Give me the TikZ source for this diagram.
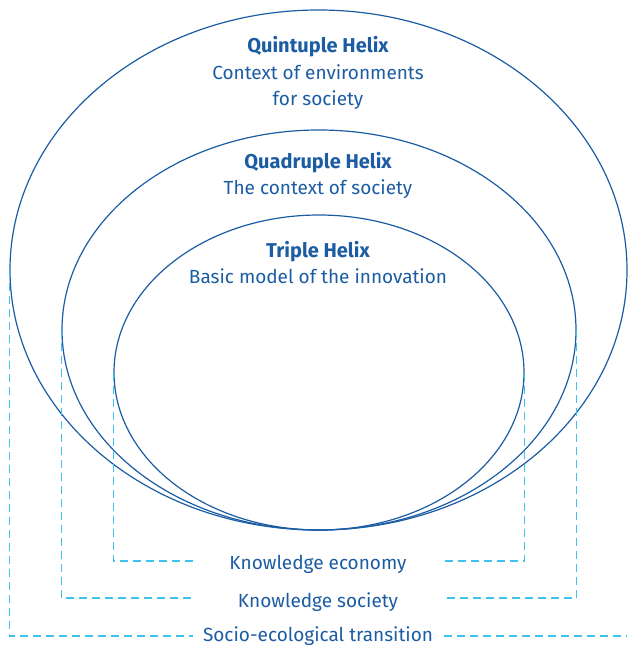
\documentclass[tikz,border=0pt]{standalone}
\usepackage{fontspec}
\setmainfont{Fira Sans}
\usetikzlibrary{shapes.geometric}
\definecolor{helixblue}{HTML}{1B5CA3}
\definecolor{guideblue}{HTML}{3EC3EE}
\tikzset{
	helix/.style={draw=helixblue, line width=1.2pt, ellipse, inner sep=0pt},
	guide/.style={draw=guideblue, line width=1.3pt, dash pattern=on 8pt off 5pt},
	caption/.style={text=helixblue, anchor=base, inner sep=0pt,
		font=\fontsize{19}{22}\selectfont},
	title/.style={caption, font=\fontsize{20}{22}\selectfont\bfseries}
}

\begin{document}
\begin{tikzpicture}[x=1pt, y=-1pt]
	\useasboundingbox (0,0) rectangle (627,647);

	% the three helices
	\node[helix, minimum width=617pt, minimum height=520pt] (quint)  at (318.5,270)   {};
	\node[helix, minimum width=514pt, minimum height=400pt] (quad)   at (319,330)     {};
	\node[helix, minimum width=410pt, minimum height=315pt] (triple) at (319,372.5)   {};

	\node[title]   (quintT)  at (318,53)  {Quintuple Helix};
	\node[caption] (quintA)  at (318,80)  {Context of environments};
	\node[caption] (quintB)  at (318,106) {for society};
	\node[title]   (quadT)   at (318,168) {Quadruple Helix};
	\node[caption] (quadA)   at (318,194) {The context of society};
	\node[title]   (tripleT) at (318,257) {Triple Helix};
	\node[caption] (tripleA) at (318,283) {Basic model of the innovation};

	% what each helix stands for
	\node[caption] (econ)  at (318,569) {Knowledge economy};
	\node[caption] (soc)   at (318,607) {Knowledge society};
	\node[caption] (socio) at (318,641) {Socio-ecological transition};

	\coordinate (econL)  at (193,561);
	\coordinate (econR)  at (444,561);
	\coordinate (socL)   at (193,598);
	\coordinate (socR)   at (444,598);
	\coordinate (socioL) at (193,636);
	\coordinate (socioR) at (444,636);
	\coordinate (socioE) at (627,636);

	\draw[guide] (triple.west) |- (econL);
	\draw[guide] (triple.east) |- (econR);
	\draw[guide] (quad.west)   |- (socL);
	\draw[guide] (quad.east)   |- (socR);
	\draw[guide] (quint.west)  |- (socioL);
	\draw[guide] (socioR) -- (socioE);
\end{tikzpicture}
\end{document}
